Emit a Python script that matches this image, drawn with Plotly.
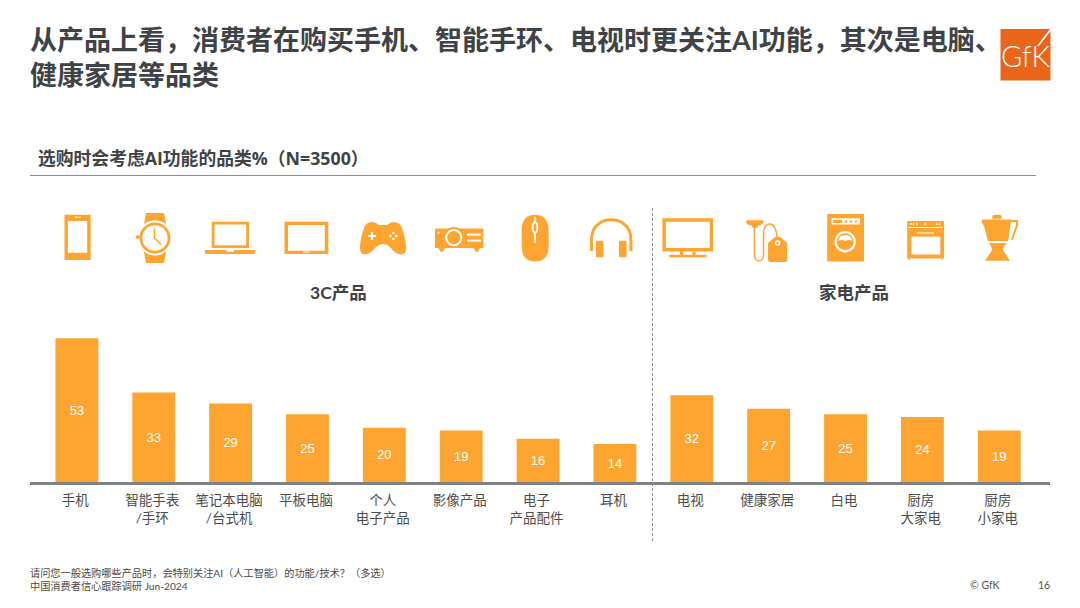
import re
import plotly.graph_objects as go

W, H = 1080, 608
categories = ["手机", "智能手表<br>/手环", "笔记本电脑<br>/台式机", "平板电脑", "个人<br>电子产品", "影像产品",
              "电子<br>产品配件", "耳机", "电视", "健康家居", "白电", "厨房<br>大家电", "厨房<br>小家电"]
values = [53, 33, 29, 25, 20, 19, 16, 14, 32, 27, 25, 24, 19]
title_lines = ["从产品上看，消费者在购买手机、智能手环、电视时更关注AI功能，其次是电脑、", "健康家居等品类"]
subtitle_text = "选购时会考虑AI功能的品类%（N=3500）"
group_labels = ["3C产品", "家电产品"]
footnote_text = "请问您一般选购哪些产品时，会特别关注AI（人工智能）的功能/技术？（多选）<br>中国消费者信心跟踪调研 Jun-2024"

ORANGE = "#FEA531"
CJK = "Lato, 'Noto Sans CJK SC', sans-serif"
DARK = "#3F4346"


def X(x):
    return x / W


def Y(y):
    return 1 - y / H


def conv(path):
    toks = re.findall(r"[A-Za-z]|-?\d+\.?\d*", path)
    out, i = [], 0
    for t in toks:
        if t.isalpha():
            out.append(t)
        else:
            out.append(f"{(X(float(t)) if i % 2 == 0 else Y(float(t))):.6f}")
            i += 1
    return " ".join(out)


shapes = []


def path(d, fill=ORANGE):
    shapes.append(dict(type="path", xref="paper", yref="paper", path=conv(d), fillcolor=fill,
                       line=dict(width=0), fillrule="evenodd"))


def stroke(d, color=ORANGE, w=2.0, dash="solid"):
    shapes.append(dict(type="path", xref="paper", yref="paper", path=conv(d),
                       line=dict(color=color, width=w, dash=dash)))


def rect(x0, y0, x1, y1, fill=ORANGE):
    shapes.append(dict(type="rect", xref="paper", yref="paper", x0=X(x0), x1=X(x1), y0=Y(y0), y1=Y(y1),
                       fillcolor=fill, line=dict(width=0)))


def circ(cx, cy, r, fill=ORANGE, ry=None):
    ry = ry or r
    shapes.append(dict(type="circle", xref="paper", yref="paper", x0=X(cx - r), x1=X(cx + r),
                       y0=Y(cy - ry), y1=Y(cy + ry), fillcolor=fill, line=dict(width=0)))


WHITE = "#FFFFFF"
# phone
rect(64.5, 214.8, 90.7, 260)
rect(67.9, 221, 87.2, 252.8, WHITE)
rect(75, 216.8, 81, 218, WHITE)
# watch
path("M 146,213 L 164,213 L 166,224 L 144,224 Z")
path("M 144,252 L 166,252 L 164,263 L 146,263 Z")
circ(155, 238, 17.5, WHITE)
circ(155, 238, 15.5)
circ(137.8, 237, 2)
circ(155, 238, 12.7, WHITE)
stroke("M 154.5,228.5 L 154.5,238 L 161,244.5", w=1.6)
# laptop
rect(211.7, 221.7, 249, 248)
rect(214.5, 224.5, 246.2, 245.2, WHITE)
path("M 205,250 L 255.5,250 Q 256,254 253,254 L 207,254 Q 204,254 205,250 Z")
rect(226.5, 250, 234, 251.6, WHITE)
# tablet
rect(284.5, 221.7, 328.3, 254)
rect(288, 225, 324.8, 250.7, WHITE)
rect(303, 251.6, 309.5, 252.6, WHITE)
# gamepad
path("M 372,222 Q 366,222 364,228 Q 360,240 360,248 Q 360,254.5 365,254.5 Q 370,254.5 376,247 Q 379,244 383,244 "
     "Q 387,244 390,247 Q 396,254.5 401,254.5 Q 406,254.5 406,248 Q 406,240 402,228 Q 400,222 394,222 "
     "Q 390,222 387,225 L 379,225 Q 376,222 372,222 Z")
rect(368, 235, 376, 237, WHITE)
rect(371, 232, 373, 240, WHITE)
for dx, dy in [(-3, 0), (3, 0), (0, -3), (0, 3)]:
    circ(393.4 + dx, 236 + dy, 1.3, WHITE)
# projector
rect(435, 228.5, 483.4, 248)
path("M 438.5,248 L 445,248 L 443,251.8 L 440.5,251.8 Z")
path("M 473.5,248 L 480,248 L 478,251.8 L 475.5,251.8 Z")
circ(453.8, 237.6, 10.6)
circ(453.8, 237.6, 8.6, WHITE)
circ(453.8, 237.6, 6.6)
rect(467, 233.6, 481, 235.6, WHITE)
rect(467, 239.6, 481, 241.6, WHITE)
circ(438.6, 232.8, 1, WHITE)
# mouse
path("M 535,214.8 Q 523,214.8 521.7,228 L 521.7,247 Q 522,261.4 535,261.4 Q 548.4,261.4 548.6,247 "
     "L 548.6,228 Q 547,214.8 535,214.8 Z")
stroke("M 535,217 L 535,243", color=WHITE, w=1.7)
circ(535, 227.5, 3.3, WHITE, ry=6.2)
circ(535, 227.5, 1.4, ORANGE, ry=4.2)
# headphones
stroke("M 591.5,251 L 591.5,239 C 591.5,213.4 630.9,213.4 630.9,239 L 630.9,251", w=3)
path("M 597,240.7 L 602,240.7 Q 603.4,240.7 603.4,242 L 603.4,256 Q 603.4,257.2 602,257.2 L 597,257.2 "
     "Q 595.9,257.2 595.9,256 L 595.9,242 Q 595.9,240.7 597,240.7 Z")
path("M 620,240.7 L 625.4,240.7 Q 626.6,240.7 626.6,242 L 626.6,256 Q 626.6,257.2 625.4,257.2 L 620,257.2 "
     "Q 619,257.2 619,256 L 619,242 Q 619,240.7 620,240.7 Z")
# tv
rect(662.4, 218.3, 713, 251.4)
rect(665.9, 221.7, 709.7, 248, WHITE)
rect(669.3, 254.8, 706.5, 257.2)
rect(680, 251.4, 683, 255)
rect(692.5, 251.4, 695.5, 255)
# vacuum
path("M 746.2,220.3 L 763.4,220.3 L 763.4,222 Q 763,225.5 758,225.5 L 757,228 L 752.5,228 L 752,225.5 "
     "Q 746.6,225.5 746.2,222 Z")
stroke("M 754.5,225 L 754.5,255 C 754.5,263 763.5,263 763.5,255 L 763.5,234 C 763.5,220 777,220 777,238", w=1.5)
path("M 775,237 L 780.5,237 L 787.2,243 L 787.2,259 Q 787.2,262 785,262 L 770,262 Q 768,262 768,259 L 768,243 Z")
circ(777.6, 243, 2.8, WHITE)
circ(777.6, 243, 1.3)
# washer
rect(827.2, 214.1, 864, 261.4)
rect(831.4, 218.3, 860, 224.5, WHITE)
rect(833, 219.8, 842, 223)
circ(846, 221.4, 1.2)
circ(851, 221.4, 1.2)
circ(856, 221.4, 1.2)
circ(845.2, 241.7, 10.7, WHITE)
circ(845.2, 241.7, 8.4)
path("M 838.5,241 Q 839,235 845.2,235 Q 851.4,235 852,241 Q 849,239 845.2,241 Q 841.5,239 838.5,241 Z", WHITE)
# oven
rect(907.2, 221, 944.1, 258.5)
rect(908.5, 258.5, 910, 260)
rect(941.3, 258.5, 942.8, 260)
rect(908.7, 227, 942.6, 228, WHITE)
stroke("M 917,233 L 934,233", color=WHITE, w=1)
rect(911.4, 236.6, 940.3, 254.5, WHITE)
for px in (911, 913.5, 917, 925, 936.5, 939.3):
    circ(px, 224, 0.9, WHITE)
# blender
path("M 992,218.8 L 992.5,215.8 Q 993,214.8 996,214.8 L 999,214.8 Q 1001,214.8 1001.5,215.8 L 1002,218.8 Z")
path("M 982,219.5 L 1011,219.5 L 1011,222 L 1008,241 L 988,241 L 984,226 L 982,223 Z")
path("M 989,243 L 1007,243 Q 1002,248 1003.5,251 L 1010,260.7 L 985,260.7 L 991.5,251 Q 993,248 989,243 Z")
stroke("M 1010.5,221 L 1017,221 L 1017,225 L 1012,240", w=2)
# logo
rect(1000.5, 29, 1050.5, 80.5, "#E8651A")
stroke("M 1038,46 L 1051,29", color=WHITE, w=1.6)
# rules
stroke("M 30,175.5 L 1036,175.5", color="#8C8C8C", w=1)
stroke("M 652.5,208 L 652.5,542", color="#8F8F8F", w=1, dash="3px,2px")

annotations = []


def note(x, y, text, size, color=DARK, bold=False, anchor="left", family=CJK, valign="middle", align="left", weight=None):
    font = dict(size=size, color=color, family=family)
    if weight:
        font["weight"] = weight
    annotations.append(dict(xref="paper", yref="paper", x=X(x), y=Y(y), text=f"<b>{text}</b>" if bold else text,
                            showarrow=False, xanchor=anchor, yanchor=valign, align=align, borderpad=0, font=font))


note(29, 40, title_lines[0], 27, bold=True)
note(29, 74, title_lines[1], 27, bold=True)
note(37, 158, subtitle_text, 17.8, bold=True, family="'Open Sans', 'Noto Sans CJK SC', sans-serif")
note(338.5, 292, group_labels[0], 17.5, bold=True, anchor="center")
note(853.5, 292, group_labels[1], 17.5, bold=True, anchor="center")
note(29, 579, footnote_text, 10.2, color="#4A4A4A")
note(985, 585, "© GfK", 10.5, color="#555555", anchor="center")
note(1044, 585, "16", 10.5, color="#555555", anchor="center")
note(1026, 56, "GfK", 29, color=WHITE, anchor="center", family="Lato, sans-serif", weight=300)

fig = go.Figure(go.Bar(
    x=list(range(len(categories))), y=values, text=values, width=0.558,
    marker=dict(color=ORANGE, line=dict(width=0)),
    textposition="inside", insidetextanchor="middle", textangle=0, constraintext="none",
    textfont=dict(color=WHITE, size=13, family="Liberation Sans"),
    hoverinfo="skip",
))
fig.update_layout(
    width=W, height=H, margin=dict(l=0, r=0, t=0, b=0), paper_bgcolor="white", plot_bgcolor="white",
    showlegend=False, shapes=shapes, annotations=annotations, font=dict(family=CJK),
    xaxis=dict(domain=[30 / W, 1050 / W], range=[-0.61, 12.66], tickmode="array",
               tickvals=[i - 0.02 for i in range(len(categories))], ticktext=categories, showgrid=False,
               zeroline=False, showline=True, linecolor="#7F8285", linewidth=2.5, ticks="outside", ticklen=4,
               tickcolor="rgba(0,0,0,0)", tickangle=0,
               tickfont=dict(size=13.5, color="#4D4D4D", family=CJK)),
    yaxis=dict(domain=[(H - 482) / H, (H - 322) / H], range=[0, 160 / 2.71], visible=False),
)
fig.write_html("out.html", post_script="document.body.style.margin='0';document.documentElement.style.overflow='hidden';",
               config={"displayModeBar": False})
